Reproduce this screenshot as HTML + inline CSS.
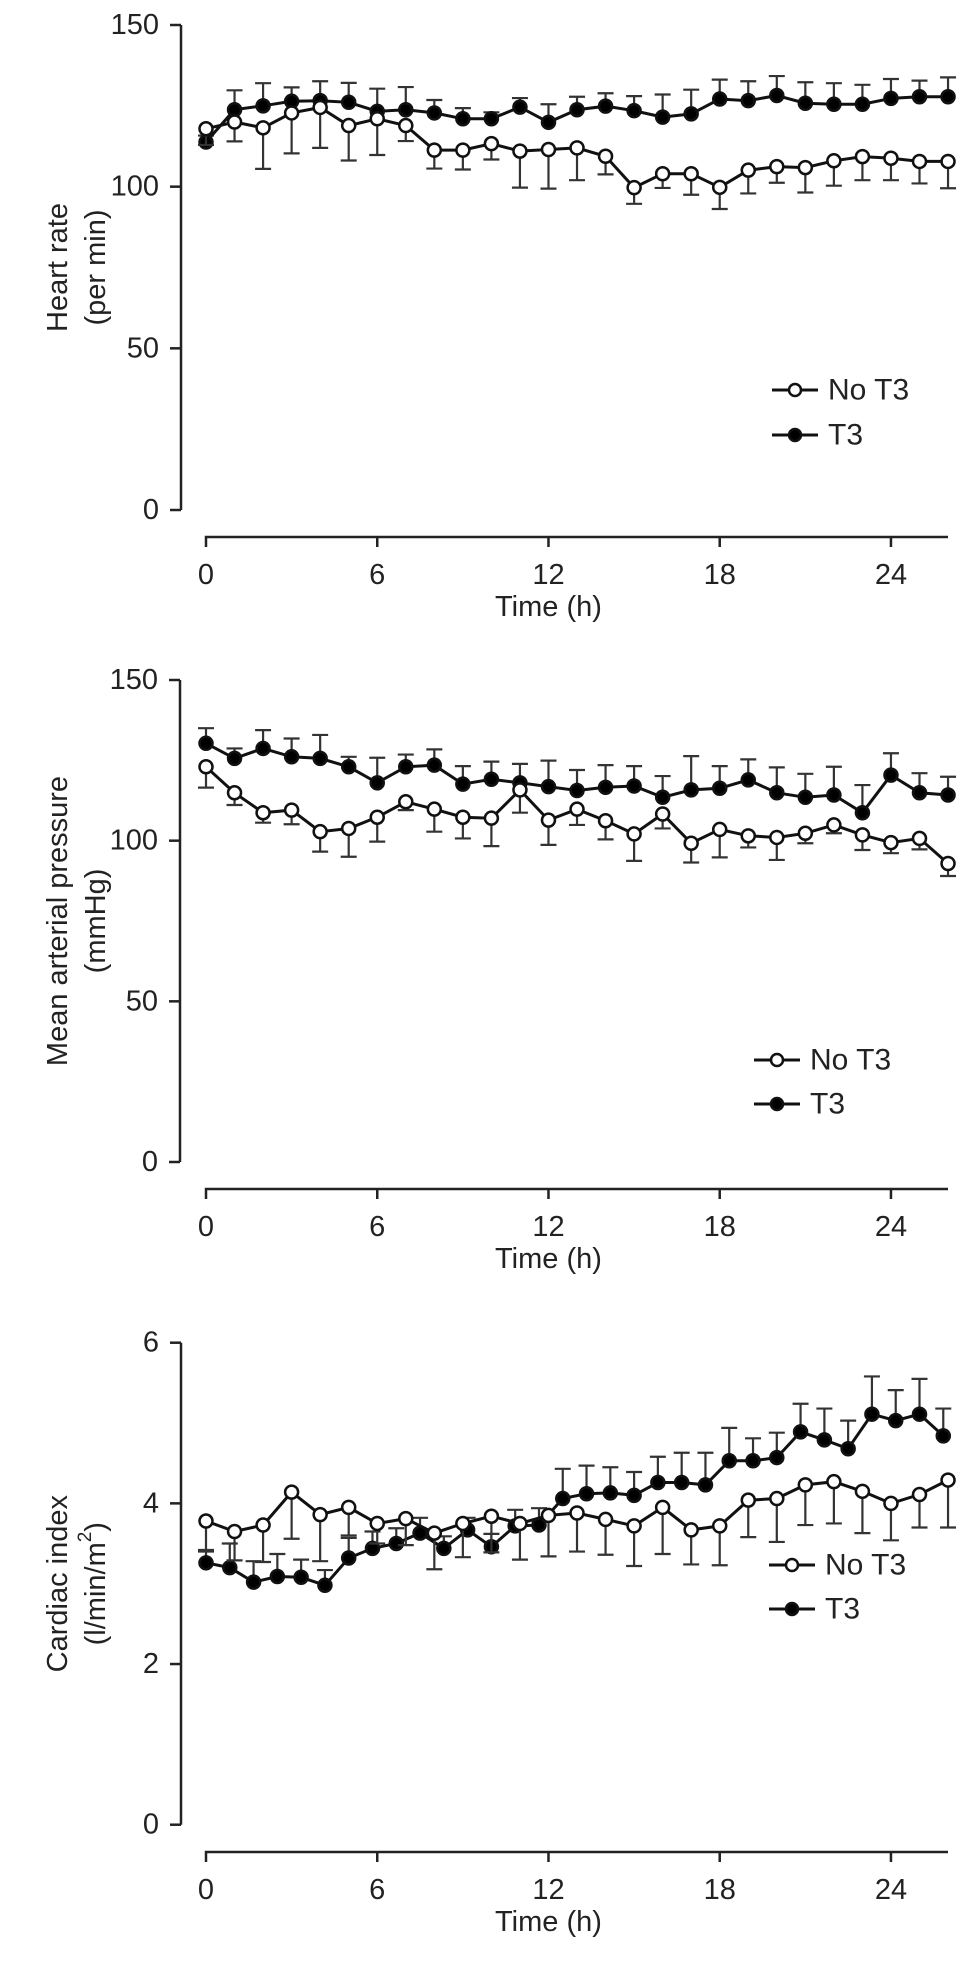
<!DOCTYPE html>
<html><head><meta charset="utf-8"><title>Hemodynamics chart</title>
<style>
html,body{margin:0;padding:0;background:#fff;}
svg{display:block;font-family:"Liberation Sans",Arial,sans-serif;}
text{fill:#222;}
</style></head>
<body>
<svg id="chart" width="969" height="1966" viewBox="0 0 969 1966" xmlns="http://www.w3.org/2000/svg"></svg>
<script>
// ---- data ----
const hours = [0,1,2,3,4,5,6,7,8,9,10,11,12,13,14,15,16,17,18,19,20,21,22,23,24,25,26];
const xTicks = [0,6,12,18,24];
const hrTicks = [0,50,100,150];
const mapTicks = [0,50,100,150];
const ciTicks = [0,2,4,6];

const hrNo = [117.9,120,118.2,122.8,124.5,118.9,121,118.9,111.3,111.3,113.3,111,111.5,112,109.4,99.7,104,104,99.8,105.1,106.2,105.9,108,109.3,108.8,107.8,107.8];
const hrNoErr = [5,6,12.7,12.5,12.5,10.8,11.2,4.8,5.7,6,4.9,11.3,12.1,10,5.6,5,4.4,6.5,6.7,7.2,5,7.7,7.7,7.3,6.8,6.8,8.3];
const hrT3 = [113.8,123.8,125,126.4,126.6,126.1,123.3,123.8,122.8,121,121,124.6,119.9,123.8,124.9,123.5,121.5,122.5,127.1,126.6,128.2,125.8,125.5,125.5,127.3,127.8,127.8];
const hrT3Err = [2,6,7,4.3,6,6,7,7,4,3.3,2,2.8,5.6,4,4,4.5,7,7.5,6,6,6,6.5,6.5,6,6,5,6];

const mapNo = [123,114.9,108.7,109.5,102.8,103.8,107.3,112.1,109.8,107.3,107,115.8,106.4,109.8,106.2,102.1,108.3,99.2,103.5,101.5,101,102.3,104.9,101.8,99.4,100.7,92.9];
const mapNoErr = [6.5,3.8,3.1,4.4,6.2,8.8,7.6,2.6,7,6.6,8.7,7.1,7.7,4.9,5.8,8.4,4.5,6,8.7,3.6,7,3.1,2.6,4.7,3.3,3.4,3.9];
const mapT3 = [130.3,125.6,128.7,126.1,125.6,123,118,123,123.5,117.6,119.1,118,116.8,115.6,116.6,117,113.5,115.8,116.3,118.9,114.9,113.5,114.2,108.7,120.4,114.9,114.2];
const mapT3Err = [4.7,3.1,5.7,5.7,7.3,3.1,7.8,3.8,4.9,5.6,5.5,5.9,8.1,6.4,6.9,6.2,6.6,10.5,6.9,6.4,7.9,7.3,8.8,8.6,6.8,6.1,5.7];

const ciNo = [3.78,3.65,3.73,4.14,3.86,3.95,3.75,3.81,3.63,3.75,3.84,3.75,3.85,3.88,3.8,3.72,3.95,3.67,3.72,4.04,4.06,4.23,4.27,4.15,4.0,4.11,4.29];
const ciNoErr = [0.38,0.36,0.46,0.58,0.58,0.35,0.25,0.33,0.45,0.42,0.45,0.45,0.51,0.48,0.44,0.5,0.58,0.43,0.49,0.46,0.54,0.5,0.52,0.52,0.46,0.41,0.59];
const ciT3Hours = [0,0.833,1.667,2.5,3.333,4.167,5,5.833,6.667,7.5,8.333,9.167,10,10.833,11.667,12.5,13.333,14.167,15,15.833,16.667,17.5,18.333,19.167,20,20.833,21.667,22.5,23.333,24.167,25,25.833];
const ciT3 = [3.26,3.2,3.02,3.09,3.08,2.98,3.32,3.44,3.5,3.63,3.44,3.67,3.46,3.72,3.73,4.06,4.12,4.13,4.1,4.26,4.26,4.23,4.53,4.53,4.57,4.89,4.79,4.68,5.11,5.03,5.11,4.84];
const ciT3Err = [0.16,0.3,0.26,0.28,0.22,0.19,0.25,0.21,0.19,0.19,0.15,0.15,0.16,0.2,0.21,0.37,0.35,0.32,0.29,0.32,0.37,0.4,0.41,0.28,0.31,0.35,0.39,0.35,0.47,0.38,0.44,0.34];

const NS = "http://www.w3.org/2000/svg";
const svg = document.getElementById('chart');
function mk(tag, attrs, parent){
  const e = document.createElementNS(NS, tag);
  for (const k in attrs) e.setAttribute(k, attrs[k]);
  (parent||svg).appendChild(e);
  return e;
}

function panel(cfg){
  const g = mk('g', {});
  
  
  const X0 = 206, PXH = 28.54;
  const xs = h => X0 + h*PXH;
  const ys = v => cfg.y0 - (v - cfg.ymin)/(cfg.ymax - cfg.ymin)*(cfg.y0 - cfg.ytop);
  const yax = mk('path', {d:`M${cfg.ax} ${cfg.ytop} V${cfg.y0}`, stroke:'#222','stroke-width':2.5, fill:'none'}, g);
  
  
  cfg.yticks.forEach(t=>{
    const tk = mk('line', {x1:cfg.ax-11, x2:cfg.ax, y1:ys(t), y2:ys(t), stroke:'#222','stroke-width':2.5}, g);
    
    
    const tl = mk('text', {x:cfg.ax-22, y:ys(t), 'text-anchor':'end', 'dominant-baseline':'central', 'font-size':29}, g);
    tl.textContent = t;
    
    
  });
  const xax = mk('path', {d:`M${X0} ${cfg.xy+10} V${cfg.xy} H948`, stroke:'#222','stroke-width':2.5, fill:'none'}, g);
  
  
  xTicks.forEach(t=>{
    if (t>0){
      const tk = mk('line', {x1:xs(t), x2:xs(t), y1:cfg.xy, y2:cfg.xy+10, stroke:'#222','stroke-width':2.5}, g);
      
      
    }
    const tl = mk('text', {x:xs(t), y:cfg.xy+38, 'text-anchor':'middle', 'dominant-baseline':'central', 'font-size':29}, g);
    tl.textContent = t;
    
    
  });
  const xt = mk('text', {x:xs(12), y:cfg.xy+70, 'text-anchor':'middle', 'dominant-baseline':'central', 'font-size':29}, g);
  xt.textContent = 'Time (h)';
  
  
  const cy = (cfg.ytop + cfg.y0)/2;
  const yt1 = mk('text', {x:0, y:0, transform:`translate(58 ${cy}) rotate(-90)`, 'text-anchor':'middle', 'dominant-baseline':'central', 'font-size':29}, g);
  yt1.textContent = cfg.t1;
  
  
  const yt2 = mk('text', {x:0, y:0, transform:`translate(96 ${cy}) rotate(-90)`, 'text-anchor':'middle', 'dominant-baseline':'central', 'font-size':29}, g);
  if (cfg.sup){
    yt2.appendChild(document.createTextNode('(l/min/m'));
    const sp = mk('tspan', {'baseline-shift':'super','font-size':19}, yt2);
    sp.textContent = '2';
    const sp2 = mk('tspan', {}, yt2);
    sp2.textContent = ')';
  } else {
    yt2.textContent = cfg.t2;
  }
  
  

  function series(hArr, vals, errs, dir, filled, sname){
    const sg = mk('g', {}, g);
    
    
    vals.forEach((v,i)=>{
      const x = xs(hArr[i]), y = ys(v), ye = ys(v + dir*errs[i]);
      const eb = mk('path', {d:`M${x} ${y} V${ye} M${x-8} ${ye} H${x+8}`, stroke:'#333','stroke-width':2.2, fill:'none'}, sg);
      
      
    });
    const pts = vals.map((v,i)=>xs(hArr[i]).toFixed(1)+','+ys(v).toFixed(1)).join(' ');
    const ln = mk('polyline', {points:pts, stroke:'#111','stroke-width':3, fill:'none'}, sg);
    
    
    vals.forEach((v,i)=>{
      const c = mk('circle', {cx:xs(hArr[i]), cy:ys(v), r:6.5, fill:filled?'#000':'#fff', stroke:'#111','stroke-width':2.5}, sg);
      
      
    });
  }
  series(cfg.t3h, cfg.t3, cfg.t3e, 1, true, 't3-series');
  series(hours, cfg.no, cfg.noe, -1, false, 'no-t3-series');

  const lg = mk('g', {}, g);
  
  
  [['No T3', false, cfg.ly1], ['T3', true, cfg.ly2]].forEach(([lab, f, ly])=>{
    const l = mk('line', {x1:cfg.lx, x2:cfg.lx+46, y1:ly, y2:ly, stroke:'#111','stroke-width':3}, lg);
    
    
    const c = mk('circle', {cx:cfg.lx+23, cy:ly, r:6, fill:f?'#000':'#fff', stroke:'#111','stroke-width':2.5}, lg);
    
    
    const t = mk('text', {x:cfg.lx+56, y:ly, 'dominant-baseline':'central', 'font-size':30}, lg);
    t.textContent = lab;
    
    
  });
}

panel({name:'heart-rate-panel', ax:181, ytop:25, y0:510, ymin:0, ymax:150, yticks:hrTicks, xy:537,
  t1:'Heart rate', t2:'(per min)', no:hrNo, noe:hrNoErr, t3:hrT3, t3e:hrT3Err, t3h:hours, lx:772, ly1:390, ly2:435});
panel({name:'mean-arterial-pressure-panel', ax:180, ytop:680, y0:1162, ymin:0, ymax:150, yticks:mapTicks, xy:1189,
  t1:'Mean arterial pressure', t2:'(mmHg)', no:mapNo, noe:mapNoErr, t3:mapT3, t3e:mapT3Err, t3h:hours, lx:754, ly1:1060, ly2:1104});
panel({name:'cardiac-index-panel', ax:181, ytop:1342.7, y0:1824.7, ymin:0, ymax:6, yticks:ciTicks, xy:1852,
  t1:'Cardiac index', sup:true, no:ciNo, noe:ciNoErr, t3:ciT3, t3e:ciT3Err, t3h:ciT3Hours, lx:769, ly1:1565, ly2:1609});
</script>
</body></html>
